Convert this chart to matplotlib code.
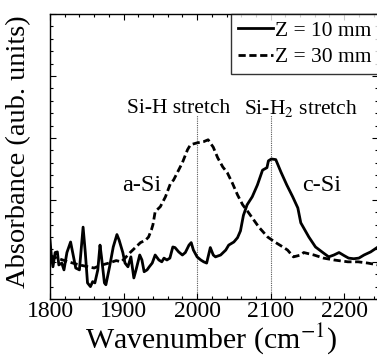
import matplotlib
matplotlib.use("Agg")
import matplotlib.pyplot as plt
from matplotlib.ticker import MultipleLocator

plt.rcParams['font.family'] = ['Liberation Serif', 'DejaVu Serif']
plt.rcParams['mathtext.fontset'] = 'stix'

# Z = 10 mm spectrum (solid)
wn_10 = [1800, 1802, 1804, 1807, 1810, 1812, 1816, 1819, 1823, 1828, 1832, 1835,
         1840, 1845, 1848, 1851, 1855, 1858, 1861, 1865, 1868, 1870, 1874, 1876,
         1881, 1886, 1891, 1894, 1899, 1902, 1906, 1910, 1914, 1917, 1922, 1925,
         1928, 1932, 1935, 1939, 1943, 1948, 1952, 1955, 1959, 1963, 1967, 1970,
         1975, 1980, 1984, 1989, 1992, 1995, 2000, 2005, 2009, 2013, 2015, 2018,
         2022, 2025, 2032, 2039, 2043, 2050, 2055, 2059, 2063, 2068, 2075, 2082,
         2089, 2095, 2097, 2101, 2107, 2114, 2122, 2130, 2137, 2141, 2152, 2161,
         2171, 2179, 2186, 2193, 2200, 2206, 2213, 2220, 2227, 2236, 2246]
abs_10 = [0.35, 0.08, -0.08, 0.15, 0.16, -0.05, -0.02, -0.13, 0.15, 0.32, 0.08, -0.10,
          -0.13, 0.56, 0.15, -0.34, -0.40, -0.32, -0.34, -0.13, 0.27, 0.08, -0.34, -0.37,
          -0.08, 0.24, 0.44, 0.35, 0.15, -0.02, -0.08, 0.08, -0.26, -0.13, 0.11, 0.03,
          -0.16, -0.13, -0.08, -0.02, 0.11, 0.03, 0.00, 0.06, 0.03, 0.06, 0.24, 0.23,
          0.16, 0.11, 0.15, 0.27, 0.31, 0.19, 0.08, 0.03, 0.00, -0.02, 0.08, 0.23,
          0.11, 0.08, 0.11, 0.19, 0.27, 0.32, 0.39, 0.50, 0.75, 0.92, 1.05, 1.24,
          1.48, 1.52, 1.63, 1.66, 1.65, 1.45, 1.24, 1.05, 0.87, 0.63, 0.40, 0.24,
          0.15, 0.08, 0.11, 0.15, 0.10, 0.06, 0.05, 0.06, 0.11, 0.16, 0.24]

# Z = 30 mm spectrum (dashed)
wn_30 = [1800, 1812, 1825, 1840, 1852, 1860, 1868, 1880, 1890, 1897, 1902, 1909,
         1916, 1923, 1930, 1934, 1938, 1940, 1943, 1950, 1957, 1964, 1968, 1980,
         1987, 1991, 2000, 2009, 2015, 2022, 2028, 2035, 2041, 2048, 2055, 2062,
         2069, 2075, 2084, 2096, 2107, 2118, 2123, 2131, 2141, 2145, 2159, 2172,
         2186, 2205, 2219, 2232, 2246]
abs_30 = [0.10, 0.05, 0.00, -0.05, -0.08, -0.10, -0.06, -0.02, 0.02, 0.00, 0.06, 0.15,
          0.23, 0.31, 0.35, 0.40, 0.52, 0.60, 0.81, 0.89, 1.05, 1.27, 1.32, 1.60,
          1.81, 1.89, 1.92, 1.94, 1.97, 1.85, 1.68, 1.53, 1.44, 1.27, 1.08, 0.92,
          0.81, 0.71, 0.56, 0.40, 0.31, 0.23, 0.19, 0.08, 0.11, 0.15, 0.11, 0.06,
          0.03, 0.00, 0.00, -0.02, -0.05]

peak_pos = [2000, 2100]
peak_names = ['Si-H stretch', 'Si-H$_2$ stretch']
phase_names = ['a-Si', 'c-Si']

fig = plt.figure(figsize=(3.77, 3.55), dpi=100)
ax = fig.add_axes([50 / 377, 1 - 299 / 355, 328 / 377, 285 / 355])

ax.plot(wn_10, abs_10, color='black', lw=2.0, label='Z = 10 mm')
ax.plot(wn_30, abs_30, color='black', lw=2.0, ls=(0, (2.6, 1.3)), label='Z = 30 mm')

# marker lines for the two stretch modes
for x in peak_pos:
    ax.plot([x, x], [-0.6, 2.37], color='0.35', lw=0.8, ls=(0, (1, 1)), zorder=0)
ax.text(1975, 2.48, peak_names[0], ha='center', va='center', fontsize=15.5)
ax.text(2141, 2.48, peak_names[1], ha='center', va='center', fontsize=15.5)
ax.text(1925, 1.23, phase_names[0], ha='center', va='center', fontsize=17.5)
ax.text(2170, 1.23, phase_names[1], ha='center', va='center', fontsize=17.5)

ax.set_xlim(1800, 2246)
ax.set_ylim(-0.6, 4.0)
ax.xaxis.set_major_locator(MultipleLocator(100))
ax.xaxis.set_minor_locator(MultipleLocator(20))
ax.yaxis.set_major_locator(MultipleLocator(1))
ax.yaxis.set_minor_locator(MultipleLocator(0.2))
ax.tick_params(which='both', direction='in', top=True, right=True, width=0.8)
ax.tick_params(which='major', length=4)
ax.tick_params(which='minor', length=2)
ax.tick_params(axis='x', labelsize=17, pad=1.5)
ax.set_yticklabels([])
for s in ax.spines.values():
    s.set_linewidth(1.0)

ax.set_xlabel('Wavenumber (cm$^{-1}$)', fontsize=21.5)
ax.xaxis.label.set_va('baseline')
ax.xaxis.set_label_coords(0.49, -0.170)
ax.set_ylabel('Absorbance (aub. units)', fontsize=20.5)
ax.yaxis.label.set_va('center')
ax.yaxis.set_label_coords(-0.095, 0.516)

leg = ax.legend(loc='upper left', bbox_to_anchor=(0.552, 1.0), borderaxespad=0,
                fontsize=15.5, frameon=True, fancybox=False, edgecolor='black',
                handlelength=1.65, handletextpad=0.05, labelspacing=0.3,
                borderpad=0.32)
leg.get_frame().set_linewidth(1.0)

fig.savefig('out.png', dpi=100)
